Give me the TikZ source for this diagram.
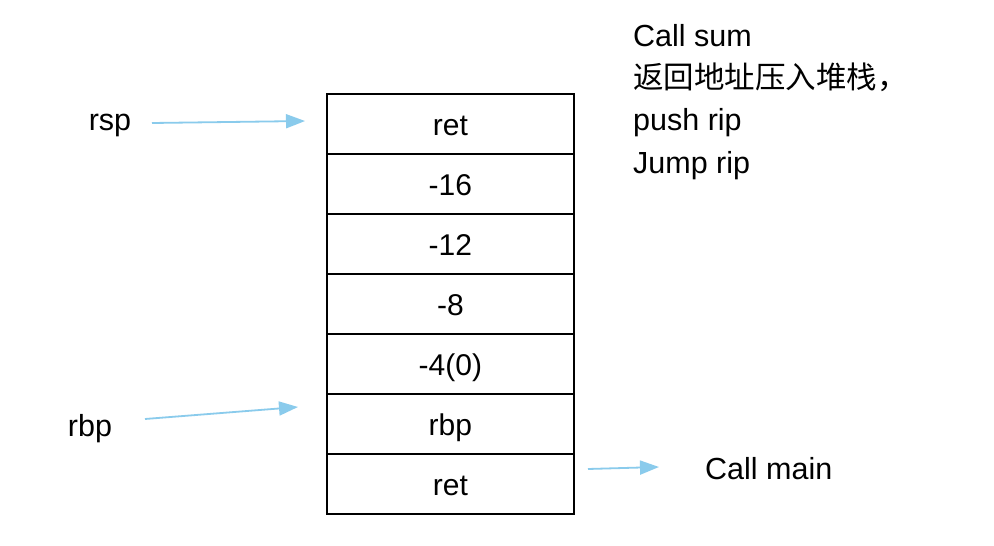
\documentclass[tikz,border=0pt]{standalone}
\usepackage{fontspec}
\setmainfont{Liberation Sans}
\newfontfamily\cjk{Noto Sans CJK SC}
\usetikzlibrary{arrows.meta}
\definecolor{arrowblue}{HTML}{8ACBEC}
\tikzset{
  cell/.style={draw=black, line width=1.7pt, minimum width=247pt, minimum height=60pt, inner sep=0pt, text height=24pt, text depth=0pt, anchor=north west, font=\fontsize{30}{34}\selectfont},
  lbl/.style={inner sep=0pt, font=\fontsize{30.5}{34}\selectfont},
  ptr/.style={draw=arrowblue, line width=1.8pt, -{Triangle[length=19pt,width=14pt]}},
}
\begin{document}
\begin{tikzpicture}[x=1pt,y=-1pt]
\useasboundingbox[fill=white] (0,0) rectangle (994,546);
\node[cell] (c1) at (326,93) {ret};
\node[cell] (c2) at (326,153) {-16};
\node[cell] (c3) at (326,213) {-12};
\node[cell] (c4) at (326,273) {-8};
\node[cell] (c5) at (326,333) {-4(0)};
\node[cell] (c6) at (326,393) {rbp};
\node[cell] (c7) at (326,453) {ret};

\node[lbl] (rsp) at (110,125) {rsp};
\node[lbl] (rbpl) at (90,429) {rbp};
\node[lbl, anchor=west] (callmain) at (705,469) {Call main};
\node[lbl, anchor=north west, align=left, font=\fontsize{30.5}{42.3}\selectfont] (note) at (633,24) {Call sum\\{\cjk 返回地址压入堆栈，}\\push rip\\Jump rip};

\coordinate (rspstart) at (152,123);
\coordinate (rspend) at (305,121);
\coordinate (rbpstart) at (145,419);
\coordinate (rbpend) at (298,407);
\coordinate (retstart) at (588,469);
\coordinate (retend) at (659,467);
\draw[ptr] (rspstart) -- (rspend);
\draw[ptr] (rbpstart) -- (rbpend);
\draw[ptr] (retstart) -- (retend);
\end{tikzpicture}
\end{document}
